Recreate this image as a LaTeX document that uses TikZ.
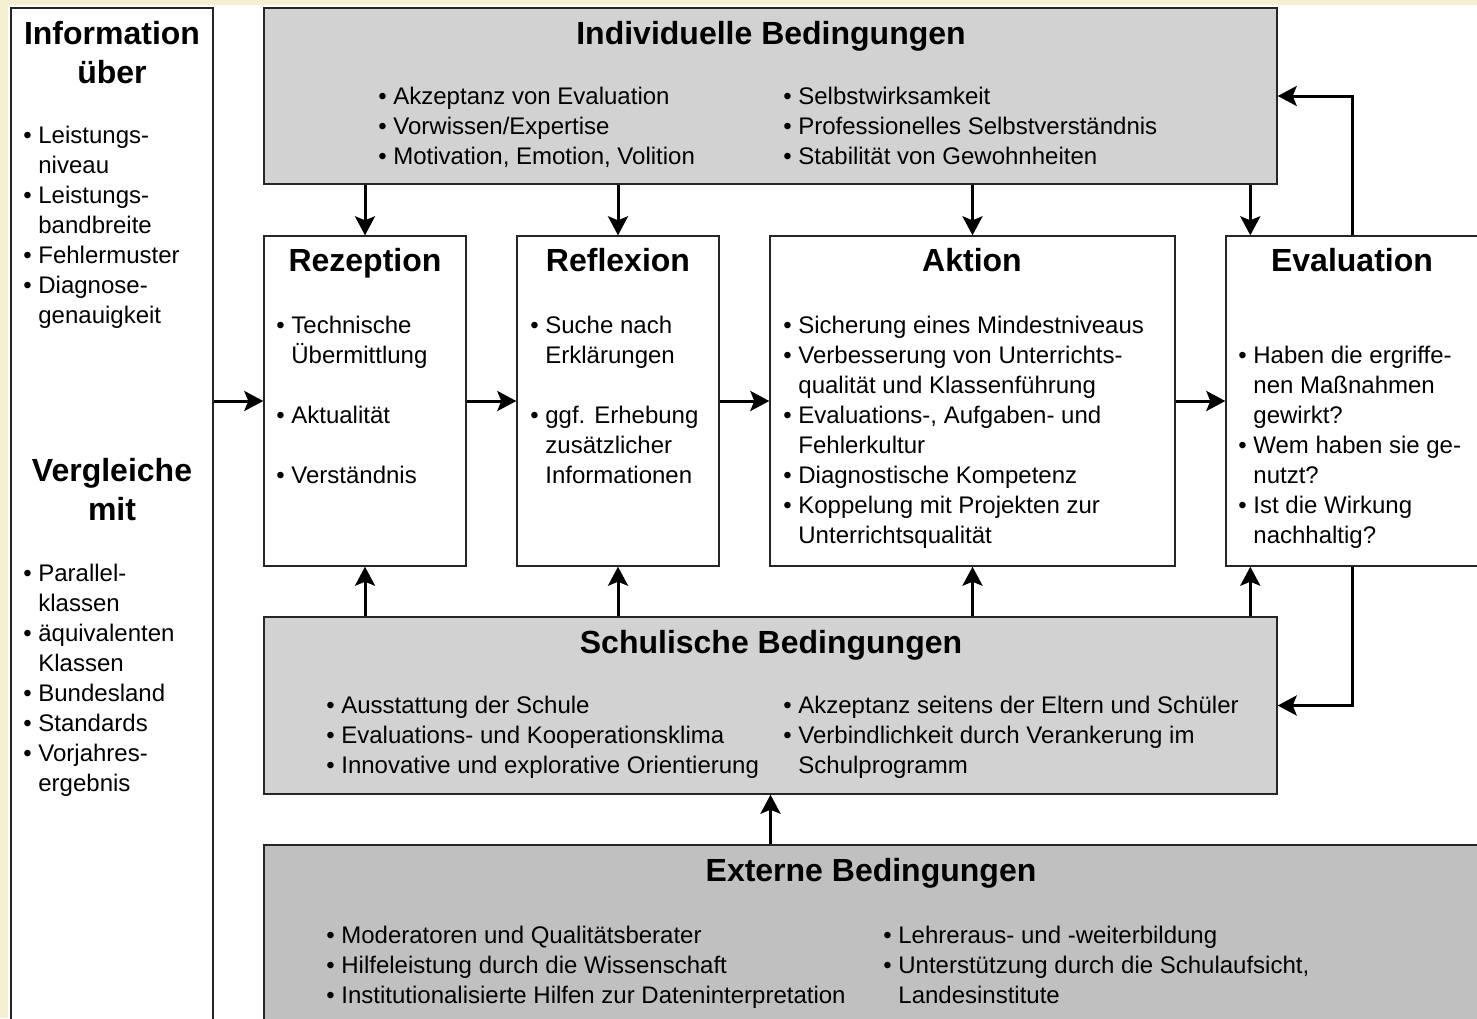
\documentclass[tikz,border=0pt]{standalone}
\usepackage{fontspec}
\setmainfont{Liberation Sans}
\usetikzlibrary{arrows.meta,fit,calc}

\definecolor{creme}{HTML}{F5F0D2}
\definecolor{rastergrau}{HTML}{D2D2D2}
\definecolor{externgrau}{HTML}{C0C0C0}

\tikzset{
    kasten/.style={draw=black!85, line width=0.7pt, inner sep=0pt},
    titel/.style={font=\fontsize{16}{19.5}\bfseries\selectfont, anchor=north, inner sep=0pt, align=center,
        execute at begin node=\rule{0pt}{16pt}},
    liste/.style={font=\fontsize{12}{15}\selectfont, anchor=north west, inner sep=0pt, align=left,
        execute at begin node=\rule{0pt}{12pt}},
    pfeil/.style={line width=1.5pt, -{Stealth[length=9.5pt,width=10pt,inset=2pt]}},
}
\newcommand{\bl}{\makebox[7.5pt][l]{•}}
\newcommand{\ei}{\hspace*{7.5pt}}

\begin{document}
\begin{tikzpicture}[x=0.5pt,y=-0.5pt]
        \useasboundingbox (0,0) rectangle (1477,1018);
        \clip (0,0) rectangle (1477,1018);
        \fill[creme] (0,0) rectangle (1477,1018);
        \fill[white] (8,5) rectangle (1477,1018);

        % Kästen
        \node[kasten, fit={(11,8) (213,1030)}] (links) {};
        \node[kasten, fill=rastergrau, fit={(264,8) (1277,184)}] (indiv) {};
        \node[kasten, fit={(264,236) (466,566)}] (rez) {};
        \node[kasten, fit={(517,236) (719,566)}] (refl) {};
        \node[kasten, fit={(770,236) (1175,566)}] (akt) {};
        \node[kasten, fit={(1226,236) (1490,566)}] (eval) {};
        \node[kasten, fill=rastergrau, fit={(264,617) (1277,794)}] (schul) {};
        \node[kasten, fill=externgrau, fit={(264,845) (1490,1030)}] (ext) {};
        \coordinate (rueck) at (1352,0);
        \coordinate (evalA) at ($(eval.north west)+(25,0)$);

        % Pfeile
        \draw[pfeil] (rez.north |- indiv.south) -- (rez.north);
        \draw[pfeil] (refl.north |- indiv.south) -- (refl.north);
        \draw[pfeil] (akt.north |- indiv.south) -- (akt.north);
        \draw[pfeil] (evalA |- indiv.south) -- (evalA);

        \draw[pfeil] (rez.south |- schul.north) -- (rez.south);
        \draw[pfeil] (refl.south |- schul.north) -- (refl.south);
        \draw[pfeil] (akt.south |- schul.north) -- (akt.south);
        \draw[pfeil] (evalA |- schul.north) -- (evalA |- eval.south);

        \draw[pfeil] (rez.west -| links.east) -- (rez.west);
        \draw[pfeil] (rez.east) -- (refl.west);
        \draw[pfeil] (refl.east) -- (akt.west);
        \draw[pfeil] (akt.east) -- (eval.west);

        \draw[pfeil] (eval.north -| rueck) |- (indiv.east);
        \draw[pfeil] (eval.south -| rueck) |- (schul.east);
        \draw[pfeil] (schul.south |- ext.north) -- (schul.south);

        % Linke Spalte
        \node[titel] (infoT) at (112,21) {Information\\über};
        \node[liste] (infoL) at (23,126) {\bl Leistungs-\\ \ei niveau\\ \bl Leistungs-\\ \ei bandbreite\\ \bl Fehlermuster\\ \bl Diagnose-\\ \ei genauigkeit};
        \node[titel] (vglT) at (112,458) {Vergleiche\\mit};
        \node[liste] (vglL) at (23,564) {\bl Parallel-\\ \ei klassen\\ \bl äquivalenten\\ \ei Klassen\\ \bl Bundesland\\ \bl Standards\\ \bl Vorjahres-\\ \ei ergebnis};

        % Individuelle Bedingungen
        \node[titel] (indivT) at (771,12) {Individuelle Bedingungen};
        \node[liste] (indivL) at (378,87) {\bl Akzeptanz von Evaluation\\ \bl Vorwissen/Expertise\\ \bl Motivation, Emotion, Volition};
        \node[liste] (indivR) at (783,87) {\bl Selbstwirksamkeit\\ \bl Professionelles Selbstverständnis\\ \bl Stabilität von Gewohnheiten};

        % Prozess
        \node[titel] (rezT) at (365,239) {Rezeption};
        \node[liste] (rezL) at (276,316) {\bl Technische\\ \ei Übermittlung\\[15pt] \bl Aktualität\\[15pt] \bl Verständnis};
        \node[titel] (reflT) at (618,239) {Reflexion};
        \node[liste] (reflL) at (530,316) {\bl Suche nach\\ \ei Erklärungen\\[15pt] \bl ggf. Erhebung\\ \ei zusätzlicher\\ \ei Informationen};
        \node[titel] (aktT) at (972,239) {Aktion};
        \node[liste] (aktL) at (783,316) {\bl Sicherung eines Mindestniveaus\\ \bl Verbesserung von Unterrichts-\\ \ei qualität und Klassenführung\\ \bl Evaluations-, Aufgaben- und\\ \ei Fehlerkultur\\ \bl Diagnostische Kompetenz\\ \bl Koppelung mit Projekten zur\\ \ei Unterrichtsqualität};
        \node[titel] (evalT) at (1352,239) {Evaluation};
        \node[liste] (evalL) at (1238,346) {\bl Haben die ergriffe-\\ \ei nen Maßnahmen\\ \ei gewirkt?\\ \bl Wem haben sie ge-\\ \ei nutzt?\\ \bl Ist die Wirkung\\ \ei nachhaltig?};

        % Schulische Bedingungen
        \node[titel] (schulT) at (771,621) {Schulische Bedingungen};
        \node[liste] (schulL) at (326,696) {\bl Ausstattung der Schule\\ \bl Evaluations- und Kooperationsklima\\ \bl Innovative und explorative Orientierung};
        \node[liste] (schulR) at (783,696) {\bl Akzeptanz seitens der Eltern und Schüler\\ \bl Verbindlichkeit durch Verankerung im\\ \ei Schulprogramm};

        % Externe Bedingungen
        \node[titel] (extT) at (871,849) {Externe Bedingungen};
        \node[liste] (extL) at (326,926) {\bl Moderatoren und Qualitätsberater\\ \bl Hilfeleistung durch die Wissenschaft\\ \bl Institutionalisierte Hilfen zur Dateninterpretation};
        \node[liste] (extR) at (883,926) {\bl Lehreraus- und -weiterbildung\\ \bl Unterstützung durch die Schulaufsicht,\\ \ei Landesinstitute};
    \end{tikzpicture}
\end{document}
